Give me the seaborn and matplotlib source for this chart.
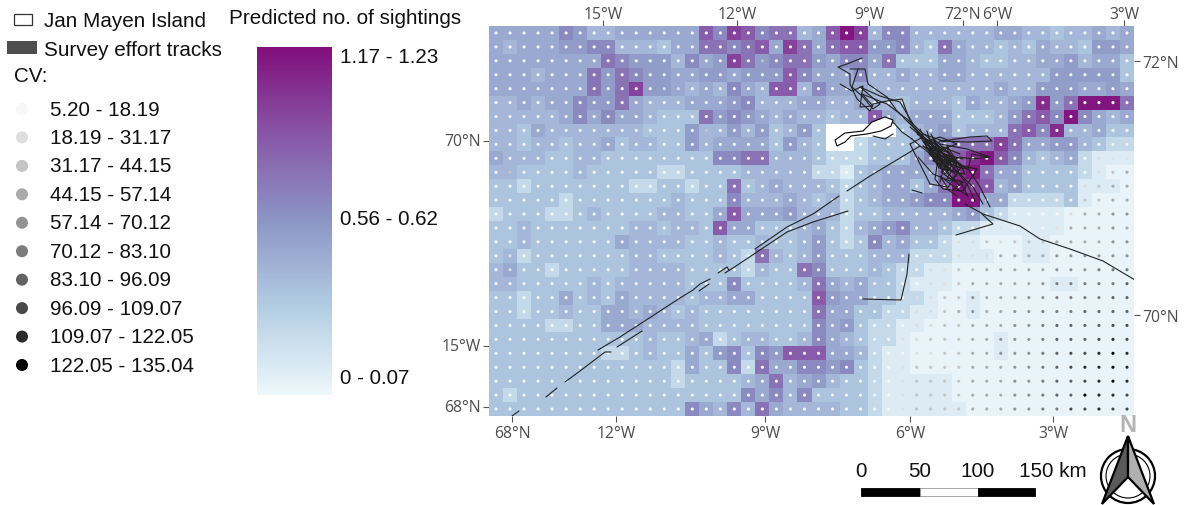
import numpy as np
import pandas as pd
import matplotlib
matplotlib.use('Agg')
import matplotlib.pyplot as plt
from matplotlib.patches import Rectangle, Circle, Polygon
from matplotlib.cm import ScalarMappable
from matplotlib.colors import Normalize
import seaborn as sns

# predicted sightings per cell, class ('.' = no data, Jan Mayen)
pred_rows = [
    "55555 76445 55555 97A97 88459 CA477 44444 45544 34454 5",
    "54555 66774 44355 88789 5A858 99667 43854 43435 44366 5",
    "55555 55587 66647 56A86 78865 77583 33554 33445 56455 3",
    "55545 55868 76655 66566 69755 57445 44554 44444 66666 3",
    "55555 55868 A6654 54754 99475 55444 44444 45446 66556 5",
    "44545 57668 54445 55674 44554 45443 44435 4456B 68CCC 8",
    "44444 57575 54333 86765 45443 44954 55533 34689 7C754 5",
    "44354 44444 43336 44646 3463. ....3 45634 44897 B4453 3",
    "44344 34453 44336 45555 3643. .2333 45788 8A855 66432 2",
    "54443 34433 33333 37788 44432 22333 5799B C9743 45211 1",
    "44333 34333 33223 33344 44422 13455 558BC 85533 33210 0",
    "33233 33333 22332 33834 54443 23455 358CA 94533 33111 0",
    "33333 23333 33343 33744 45434 23455 677CC 55222 23100 0",
    "23332 23433 33443 35955 56444 23344 44456 32111 10000 0",
    "33433 33333 44344 39553 33453 24567 44322 11111 10000 0",
    "33433 33335 44443 34334 33463 23745 33211 00011 00000 0",
    "34233 33333 44333 34328 43463 33444 22211 10011 00000 0",
    "45332 33333 44443 33324 33873 33432 21100 00000 00000 0",
    "44333 33434 44443 33733 33485 45332 11100 00000 11000 0",
    "33233 53435 44443 44553 33396 55332 21001 00000 00000 0",
    "33233 43355 45434 33333 33385 53322 11001 00000 00000 0",
    "33332 23355 54444 33333 33375 63221 10000 00000 00000 0",
    "33333 33333 34334 52344 33475 43221 00000 01000 00000 0",
    "33333 33322 34335 36737 69995 54211 00000 01000 00000 0",
    "33333 33333 33325 33728 55776 73211 00000 00000 00000 0",
    "33333 33333 33323 33345 84564 33211 11100 00000 00000 0",
    "32333 33333 33333 33375 74733 33211 11100 00000 00000 0",
    "33333 33333 33337 54748 54444 33211 11110 00000 00000 0",
]
# value of each class above
pred_classes = {'0': 0.03, '1': 0.09, '2': 0.22, '3': 0.36, '4': 0.43, '5': 0.51, '6': 0.58,
                '7': 0.67, '8': 0.78, '9': 0.89, 'A': 1.0, 'B': 1.1, 'C': 1.2}

# CV class of the dot in each cell, 0-9
cv_rows = [
    "00000 00000 00000 00000 00000 00000 00000 00000 00000 0",
    "00000 00000 00000 00000 00000 00000 00000 00000 00000 0",
    "00000 00000 00000 00002 00000 00000 00000 00000 00000 0",
    "00000 00000 00000 00000 00000 00000 00000 00000 00000 0",
    "00000 00000 00110 00000 00000 00000 00000 00000 00000 0",
    "00000 00000 00000 00000 00000 00000 00000 00000 00000 0",
    "00000 00000 00000 00000 00000 00000 00000 00000 00000 0",
    "00000 00000 00000 20000 00000 00000 00000 00000 00000 0",
    "00000 00000 00000 00000 00000 00000 00000 00000 00000 0",
    "00000 00000 00000 00000 00000 00000 00000 00000 00011 1",
    "02000 00000 00000 00000 00000 00000 00000 00000 00012 3",
    "00000 00000 00000 00000 00000 00000 00000 00000 00123 3",
    "00000 00000 00000 00000 00000 00000 00000 00000 00223 3",
    "00000 00000 00000 00000 00000 00000 00000 00000 01334 4",
    "00000 00000 00000 00000 00000 00000 00000 01000 13334 3",
    "00000 00000 00000 00000 00000 00000 00011 21222 33334 4",
    "01000 00000 00000 00000 00000 00000 00011 13333 44444 4",
    "01000 00000 00000 00000 00000 00000 01122 33333 44455 5",
    "00000 00000 00000 00000 00000 00000 01123 33334 55555 6",
    "00000 00000 00000 00000 00000 00000 11224 33344 55556 6",
    "00000 00000 00000 00000 00000 00000 11234 33445 55666 6",
    "00000 00000 00000 00000 00000 00000 11223 33445 66667 7",
    "00000 00000 00000 00000 00000 00001 12223 34445 66678 7",
    "00000 00000 00000 00000 00000 00000 11223 34445 67789 8",
    "00000 00000 00000 00000 00000 00001 22223 33445 67889 8",
    "00000 00000 00000 00000 00000 00001 22223 33445 66789 8",
    "00000 00000 00000 00000 00000 00001 22223 33445 66988 7",
    "00000 00000 00000 00000 00000 00001 22223 33445 57787 7",
]

cv_labels = ["5.20 - 18.19", "18.19 - 31.17", "31.17 - 44.15", "44.15 - 57.14", "57.14 - 70.12",
             "70.12 - 83.10", "83.10 - 96.09", "96.09 - 109.07", "109.07 - 122.05", "122.05 - 135.04"]
cv_colors = ["#f7f7f7", "#dedede", "#c4c4c4", "#ababab", "#939393",
             "#7c7c7c", "#636363", "#4a4a4a", "#2b2b2b", "#000000"]
pred_colors = ["#edf8fb", "#b3cde3", "#8c96c6", "#8856a7", "#810f7c"]
pred_labels = ["0 - 0.07", "0.56 - 0.62", "1.17 - 1.23"]

# survey tracks and island outline, in map units (map is 645 x 390, origin top left)
tracks = [
    # north tangle
    [(373, 32), (358, 38), (349, 41), (361, 48), (361, 58), (368, 73), (381, 85), (384, 78), (398, 75), (413, 73),
     (421, 95), (431, 105), (451, 121)],
    [(361, 43), (376, 43), (379, 58), (398, 71), (408, 85), (431, 108), (451, 125)],
    [(369, 43), (363, 61), (374, 71), (384, 83), (391, 78), (371, 61), (391, 70), (411, 76), (424, 98)],
    [(351, 58), (363, 65), (374, 60), (371, 81), (384, 80), (373, 68), (398, 78), (418, 93), (441, 118)],
    [(383, 100), (403, 95), (413, 106), (423, 113)],
    [(384, 110), (396, 113), (404, 108)],
    # main clump
    [(421, 101), (441, 118), (458, 135), (471, 148), (484, 161), (494, 178)],
    [(426, 103), (444, 126), (464, 141), (478, 158), (486, 175)],
    [(431, 103), (438, 118), (454, 131), (471, 138), (476, 148), (461, 145), (441, 125), (431, 111)],
    [(434, 108), (454, 115), (481, 111), (498, 110), (503, 115), (478, 116), (451, 115), (441, 128), (454, 145), (451, 156)],
    [(451, 118), (478, 123), (501, 131), (483, 133), (471, 131), (454, 138), (444, 135), (454, 121), (471, 128)],
    [(438, 105), (441, 115), (461, 128), (468, 141), (479, 143), (483, 128), (499, 131)],
    [(421, 118), (441, 158)],
    [(441, 158), (458, 161), (451, 150), (468, 163), (479, 170), (471, 155)],
    [(478, 141), (491, 161), (501, 181)],
    [(429, 131), (444, 148), (461, 155), (468, 148)],
    [(421, 118), (434, 111), (454, 123), (468, 118), (451, 111), (434, 116), (454, 128), (474, 133)],
    [(449, 133), (446, 153), (454, 163), (474, 165), (488, 143), (473, 140), (458, 163), (468, 170)],
    [(438, 116), (458, 130), (478, 143), (461, 130), (441, 123), (464, 146), (448, 136), (471, 160)],
    [(423, 113), (431, 120), (461, 143), (434, 120), (464, 136), (444, 126), (468, 150)],
    [(436, 112), (446, 131), (466, 136), (456, 148), (440, 122), (460, 126), (470, 146), (450, 142), (436, 118)],
    [(442, 108), (452, 126), (446, 116), (462, 138), (458, 120), (472, 142), (452, 134), (444, 112), (464, 131)],
    [(428, 108), (448, 122), (440, 128), (456, 142), (466, 156), (452, 146), (462, 134), (448, 128), (434, 120)],
    [(440, 112), (450, 130), (460, 140), (454, 128), (468, 138), (458, 152), (474, 156), (464, 164)],
    [(423, 164), (433, 167)],
    # long transits
    [(23, 390), (30, 385)],
    [(57, 371), (68, 362)],
    [(76, 356), (91, 345), (116, 326), (122, 326)],
    [(109, 324), (131, 311), (148, 300), (171, 285), (191, 272), (204, 264), (211, 258), (221, 253)],
    [(128, 321), (153, 305)],
    [(210, 265), (220, 258)],
    [(229, 247), (238, 241), (240, 244)],
    [(236, 247), (244, 242), (274, 222), (298, 206), (324, 196), (359, 185)],
    [(266, 223), (298, 201), (324, 188), (350, 170)],
    [(358, 165), (381, 150), (431, 120)],
    [(476, 178), (494, 188), (531, 200), (551, 213), (581, 223), (614, 235), (646, 254)],
    [(467, 209), (504, 198), (493, 188)],
    [(420, 228), (418, 248), (412, 274), (374, 273)],
]
island = [(346, 114), (356, 107), (374, 105), (383, 96), (396, 91), (404, 94), (402, 100), (392, 105), (378, 108),
          (362, 110), (356, 116), (348, 120)]

# graticule ticks, map units
ticks_top = [114, 248, 380, 474, 508, 635]
labels_top = ["15°W", "12°W", "9°W", "72°N", "6°W", "3°W"]
ticks_bottom = [23, 127, 276, 421, 564]
labels_bottom = ["68°N", "12°W", "9°W", "6°W", "3°W"]
ticks_left = [115, 320, 381]
labels_left = ["70°N", "15°W", "68°N"]
ticks_right = [35, 289]
labels_right = ["72°N", "70°N"]

W, H = 1188, 506
MAP_W, MAP_H = 645, 390
NCOL, NROW = 46, 28
LEG_FONT = 'Liberation Sans'
MAP_FONT = 'Open Sans'
LEG_SIZE = 14.9

sns.set_theme(style='white')
pred = np.array([[np.nan if c == '.' else pred_classes[c] for c in r.replace(' ', '')] for r in pred_rows])
cv = np.array([[int(c) for c in r.replace(' ', '')] for r in cv_rows])

cmap = sns.blend_palette(pred_colors, as_cmap=True)

fig = plt.figure(figsize=(W / 100, H / 100), dpi=100, facecolor='white')
ax = fig.add_axes([489 / W, 1 - 417 / H, MAP_W / W, MAP_H / H])
sns.heatmap(pred, ax=ax, cmap=cmap, vmin=0, vmax=1.23, cbar=False, linewidths=0, rasterized=True)

# CV dots
rr, cc = np.meshgrid(np.arange(NROW), np.arange(NCOL), indexing='ij')
dots = pd.DataFrame({'col': cc.ravel() + 0.5, 'row': rr.ravel() + 0.5,
                     'cv': cv.ravel(), 'val': pred.ravel()}).dropna()
sns.scatterplot(data=dots, x='col', y='row', hue='cv', palette=dict(enumerate(cv_colors)), hue_order=range(10),
                s=5, linewidth=0, legend=False, ax=ax, zorder=3)

sx = NCOL / MAP_W
sy = NROW / MAP_H
for t in tracks:
    t = np.array(t)
    ax.plot(t[:, 0] * sx, t[:, 1] * sy, color='#222222', lw=0.8, zorder=4, solid_joinstyle='round')
isl = np.array(island)
ax.fill(isl[:, 0] * sx, isl[:, 1] * sy, facecolor='white', edgecolor='black', lw=0.8, zorder=5)

ax.set_xlim(0, NCOL)
ax.set_ylim(NROW, 0)
ax.set_xlabel('')
ax.set_ylabel('')
for s in ax.spines.values():
    s.set_visible(False)

tick_style = dict(length=4.3, width=0.8, color='#555555', labelcolor='#4d4d4d', labelsize=11.3)
ax.set_xticks(np.array(ticks_bottom) * sx, labels_bottom, rotation=0)
ax.set_yticks(np.array(ticks_left) * sy, labels_left, rotation=0)
ax.tick_params(axis='x', bottom=True, pad=2.5, **tick_style)
ax.tick_params(axis='y', left=True, pad=1.5, **tick_style)
top = ax.secondary_xaxis('top')
top.set_xticks(np.array(ticks_top) * sx, labels_top)
top.tick_params(pad=-1.7, **tick_style)
right = ax.secondary_yaxis('right')
right.set_yticks(np.array(ticks_right) * sy, labels_right)
right.tick_params(pad=1.5, **tick_style)
for a in (top, right):
    for s in a.spines.values():
        s.set_visible(False)
for lab in (ax.get_xticklabels() + ax.get_yticklabels() + top.get_xticklabels() + right.get_yticklabels()):
    lab.set_fontfamily(MAP_FONT)

# colour bar
cax = fig.add_axes([257 / W, 1 - 396 / H, 75 / W, 348 / H])
cb = fig.colorbar(ScalarMappable(norm=Normalize(0, 1.23), cmap=cmap), cax=cax)
cb.outline.set_visible(False)
cb.set_ticks([0.07, 0.63, 1.205], labels=pred_labels)
cb.ax.tick_params(length=0, pad=6, labelsize=LEG_SIZE, labelcolor='#111111')
for lab in cb.ax.get_yticklabels():
    lab.set_fontfamily(LEG_FONT)

# legends, scale bar and north arrow drawn on a full figure overlay
ov = fig.add_axes([0, 0, 1, 1], zorder=10)
ov.set_xlim(0, W)
ov.set_ylim(H, 0)
ov.axis('off')
ov.patch.set_alpha(0)
txt = dict(family=LEG_FONT, fontsize=LEG_SIZE, color='#111111', va='center')

ov.text(229, 18, "Predicted no. of sightings", **txt)
ov.add_patch(Rectangle((14, 15), 18, 11, facecolor='white', edgecolor='#333333', lw=0.9))
ov.text(44, 21, "Jan Mayen Island", **txt)
ov.add_patch(Rectangle((7, 42), 30, 13, facecolor='#4d4d4d', edgecolor='none'))
ov.text(44, 50, "Survey effort tracks", **txt)
ov.text(14, 76, "CV:", **txt)
leg_y = np.linspace(110, 366, len(cv_labels))
ov.scatter([22] * len(cv_labels), leg_y, s=75, c=cv_colors, linewidths=0)
for y, lab in zip(leg_y, cv_labels):
    ov.text(50, y, lab, **txt)

# scale bar
for x0, x1, fc, ec in [(861, 920, 'black', 'black'), (920, 978, 'white', '#999999'), (978, 1035, 'black', 'black')]:
    ov.add_patch(Rectangle((x0, 488.5), x1 - x0, 8.5, facecolor=fc, edgecolor=ec, lw=0.6))
for x, lab in [(861, "0"), (920, "50"), (978, "100")]:
    ov.text(x, 472, lab, ha='center', **txt)
ov.text(1019, 472, "150 km", ha='left', **txt)

# north arrow
ov.text(1128, 426, "N", family=LEG_FONT, fontsize=17, color='#b5b5b5', ha='center', va='center', fontweight='bold')
ov.add_patch(Circle((1128, 477), 27, facecolor='white', edgecolor='black', lw=1.6))
ov.add_patch(Circle((1128, 477), 22, facecolor='none', edgecolor='black', lw=0.8))
ov.add_patch(Polygon([(1128, 437), (1102, 505), (1128, 478)], facecolor='#5a5a5a', edgecolor='black', lw=1.6))
ov.add_patch(Polygon([(1128, 437), (1154, 505), (1128, 478)], facecolor='#b0b0b0', edgecolor='black', lw=1.6))

fig.savefig('out.png', dpi=100)
